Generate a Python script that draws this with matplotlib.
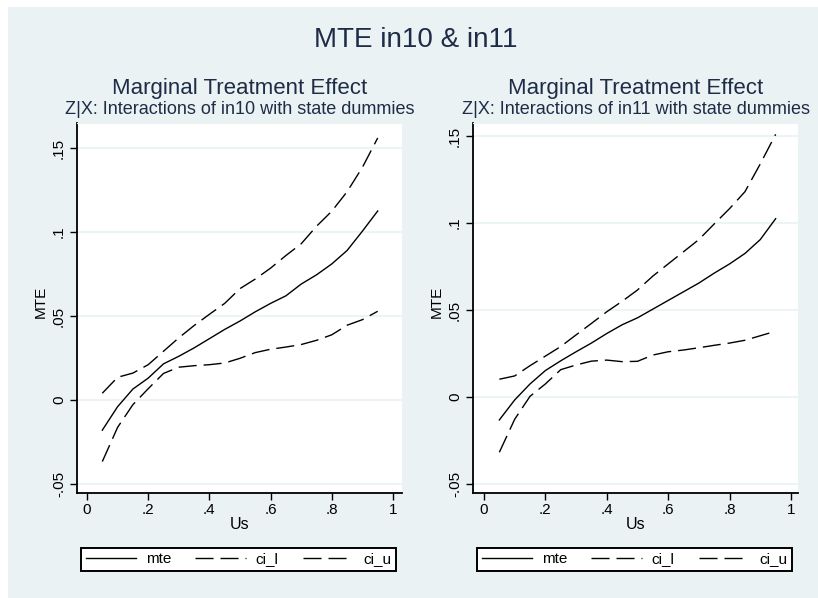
import matplotlib
matplotlib.use("Agg")
import matplotlib.pyplot as plt
from matplotlib.patches import Rectangle
from matplotlib.lines import Line2D

plt.rcParams['font.family'] = ['Liberation Sans', 'DejaVu Sans']

# -------------------------------
# 1. Data
# -------------------------------
us = [0.05, 0.10, 0.15, 0.20, 0.25, 0.30, 0.35, 0.40, 0.45, 0.50,
      0.55, 0.60, 0.65, 0.70, 0.75, 0.80, 0.85, 0.90, 0.95]

# in10 panel
mte_in10 = [-0.018, -0.004, 0.0065, 0.013, 0.0215, 0.026, 0.031, 0.0365, 0.042, 0.047,
            0.0525, 0.0575, 0.062, 0.069, 0.0745, 0.081, 0.089, 0.1005, 0.1125]
ci_l_in10 = [-0.0367, -0.0163, -0.0028, 0.0067, 0.0158, 0.0195, 0.0204, 0.021, 0.022, 0.0248,
             0.0282, 0.0302, 0.0315, 0.033, 0.0355, 0.0388, 0.0445, 0.0478, 0.0528]
ci_u_in10 = [0.004, 0.0135, 0.016, 0.021, 0.029, 0.037, 0.0443, 0.051, 0.0575, 0.0663,
             0.072, 0.0785, 0.086, 0.093, 0.1034, 0.1124, 0.124, 0.1385, 0.156]

# in11 panel
mte_in11 = [-0.0132, -0.0017, 0.0075, 0.0152, 0.0208, 0.026, 0.031, 0.0365, 0.0415, 0.0455,
            0.0505, 0.0555, 0.0605, 0.0655, 0.0712, 0.0765, 0.0825, 0.0905, 0.1025]
ci_l_in11 = [-0.0318, -0.0128, 0.0004, 0.0075, 0.0157, 0.0184, 0.0206, 0.0212, 0.0203, 0.0205,
             0.0241, 0.026, 0.027, 0.0283, 0.0297, 0.031, 0.0326, 0.0352, 0.0378]
ci_u_in11 = [0.0102, 0.0121, 0.018, 0.0235, 0.029, 0.0357, 0.0423, 0.049, 0.055, 0.0615,
             0.0695, 0.0765, 0.0835, 0.0905, 0.0995, 0.1083, 0.118, 0.134, 0.151]

main_title = "MTE in10 & in11"
panel_title = "Marginal Treatment Effect"
panel_subtitles = ["Z|X: Interactions of in10 with state dummies",
                   "Z|X: Interactions of in11 with state dummies"]
series_labels = ["mte", "ci_l", "ci_u"]

x_ticks = [0, 0.2, 0.4, 0.6, 0.8, 1]
x_tick_labels = ["0", ".2", ".4", ".6", ".8", "1"]
y_ticks = [-0.05, 0, 0.05, 0.1, 0.15]
y_tick_labels = ["-.05", "0", ".05", ".1", ".15"]

# -------------------------------
# 2. Figure and Stata-like background
# -------------------------------
W, H = 818, 598
bg = '#EAF2F3'
title_col = '#1e2c48'
dash = (0, (13, 5))

fig = plt.figure(figsize=(W / 100, H / 100), dpi=100, facecolor='white')
fig.add_artist(Rectangle((8 / W, 0), 1 - 8 / W, 1 - 7 / H, transform=fig.transFigure,
                         facecolor=bg, edgecolor='none', zorder=-5))

fig.text(416 / W, 1 - 46.7 / H, main_title, ha='center', va='baseline',
         fontsize=20, color=title_col)

# pixel boxes of the two plot regions and their limits
panels = [
    dict(left=77, xlim=(-0.0327, 1.0294), ylim=(-0.0554, 0.1649),
         data=(mte_in10, ci_l_in10, ci_u_in10), sub=panel_subtitles[0]),
    dict(left=473, xlim=(-0.0358, 1.0228), ylim=(-0.0552, 0.1575),
         data=(mte_in11, ci_l_in11, ci_u_in11), sub=panel_subtitles[1]),
]
top_px, bot_px, width_px = 123, 493, 325

# -------------------------------
# 3. Draw each panel
# -------------------------------
for p in panels:
    ax = fig.add_axes([p['left'] / W, 1 - bot_px / H, width_px / W, (bot_px - top_px) / H])
    ax.set_facecolor('white')

    mte, ci_l, ci_u = p['data']
    ax.plot(us, mte, color='black', lw=1.0)
    ax.plot(us, ci_l, color='black', lw=1.0, ls=dash)
    ax.plot(us, ci_u, color='black', lw=1.0, ls=dash)

    ax.set_xlim(*p['xlim'])
    ax.set_ylim(*p['ylim'])
    ax.set_xticks(x_ticks)
    ax.set_xticklabels(x_tick_labels)
    ax.set_yticks(y_ticks)
    ax.set_yticklabels(y_tick_labels, rotation=90, va='center')
    ax.tick_params(axis='x', direction='out', length=5, width=1, pad=2, labelsize=11)
    ax.tick_params(axis='y', direction='out', length=5, width=1, pad=3, labelsize=11)
    ax.grid(axis='y', color=bg, lw=1.2)
    ax.set_axisbelow(True)

    for side in ['top', 'right']:
        ax.spines[side].set_color(bg)
    for side in ['left', 'bottom']:
        ax.spines[side].set_color('black')
        ax.spines[side].set_linewidth(1.3)

    # axis titles (Stata puts them overlapping the tick labels)
    ax.text(0.5, -0.084, "Us", transform=ax.transAxes, ha='center', va='center', fontsize=11.5)
    ax.text(-0.11, 0.516, "MTE", transform=ax.transAxes, ha='center', va='center',
            rotation=90, fontsize=11)

    ax.text(0.5, 1.078, panel_title, transform=ax.transAxes, ha='center', va='baseline',
            fontsize=16, color=title_col)
    ax.text(0.5, 1.024, p['sub'], transform=ax.transAxes, ha='center', va='baseline',
            fontsize=13, color=title_col)

    handles = [Line2D([], [], color='black', lw=1.0),
               Line2D([], [], color='black', lw=1.0, ls=dash),
               Line2D([], [], color='black', lw=1.0, ls=dash)]
    leg = ax.legend(handles, series_labels, ncol=3, loc='lower left',
                    bbox_to_anchor=(0.0123, -0.211, 0.969, 0.073), mode='expand',
                    borderaxespad=0, fancybox=False, edgecolor='black', framealpha=1,
                    handlelength=3.3, handletextpad=0.65, columnspacing=1.0,
                    borderpad=0.3, fontsize=11)
    leg.get_frame().set_linewidth(1.4)

fig.savefig("out.png", dpi=100, facecolor=fig.get_facecolor())
